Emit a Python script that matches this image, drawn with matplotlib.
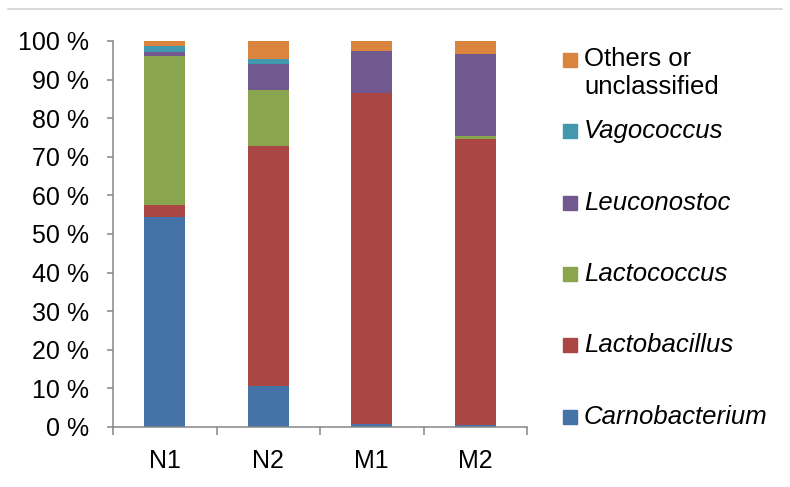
import matplotlib

matplotlib.use("Agg")

import matplotlib.pyplot as plt
import numpy as np
from matplotlib.lines import Line2D
from matplotlib.patches import Rectangle

plt.rcParams["font.family"] = ["Liberation Sans", "DejaVu Sans"]

samples = ["N1", "N2", "M1", "M2"]
carnobacterium = [54.5, 10.6, 0.9, 0.4]
lactobacillus = [3.0, 62.2, 85.5, 74.1]
lactococcus = [38.7, 14.4, 0.0, 0.9]
leuconostoc = [0.9, 6.8, 11.0, 21.2]
vagococcus = [1.7, 1.3, 0.0, 0.0]
others = [1.2, 4.7, 2.6, 3.4]

series_names = ["Carnobacterium", "Lactobacillus", "Lactococcus",
                "Leuconostoc", "Vagococcus", "Others or\nunclassified"]
series_values = [carnobacterium, lactobacillus, lactococcus,
                 leuconostoc, vagococcus, others]
colors = ["#4572A7", "#AA4643", "#89A54E", "#71588F", "#4198AF", "#DB843D"]
y_ticks = [0, 10, 20, 30, 40, 50, 60, 70, 80, 90, 100]

W, H = 790, 487
fig = plt.figure(figsize=(W / 100, H / 100), dpi=100)
ax = fig.add_axes([113 / W, 1 - 427 / H, (527 - 113) / W, (427 - 41) / H])

x = np.arange(len(samples))
bottom = np.zeros(len(samples))
for vals, color in zip(series_values, colors):
    vals = np.asarray(vals)
    ax.bar(x, vals, width=0.4, bottom=bottom, color=color, linewidth=0)
    bottom += vals

axis_grey = "#868686"
ax.set_xlim(-0.5, len(samples) - 0.5)
ax.set_ylim(0, 100)
ax.set_yticks(y_ticks)
ax.set_yticklabels([f"{t} %" for t in y_ticks])
ax.set_xticks(np.arange(len(samples) + 1) - 0.5)
ax.set_xticklabels([])
ax.set_xticks(x, minor=True)
ax.set_xticklabels(samples, minor=True)
ax.tick_params(axis="x", which="minor", length=0, pad=16, labelsize=18)
ax.tick_params(axis="x", which="major", length=5.5, width=1.1, color=axis_grey)
ax.tick_params(axis="y", length=4.5, width=1.1, color=axis_grey, pad=13, labelsize=18)
for side in ("top", "right"):
    ax.spines[side].set_visible(False)
for side in ("left", "bottom"):
    ax.spines[side].set_color(axis_grey)
    ax.spines[side].set_linewidth(1.1)

# legend drawn by hand, entries evenly spaced like the original
leg_y0, leg_step = 60, 71.3
for i, (name, color) in enumerate(zip(series_names[::-1], colors[::-1])):
    yc = leg_y0 + i * leg_step
    fig.patches.append(Rectangle((563 / W, 1 - (yc + 7) / H), 14 / W, 14 / H,
                                 transform=fig.transFigure, color=color))
    if "\n" in name:
        fig.text(584 / W, 1 - (yc - 13) / H, name, fontsize=18.5, va="top",
                 ha="left", linespacing=1.2)
    else:
        fig.text(584 / W, 1 - yc / H, name, fontsize=18.5, va="center",
                 ha="left", style="italic")

# thin separator line at the top of the figure
fig.lines.append(Line2D([8 / W, 782 / W], [1 - 9 / H, 1 - 9 / H],
                        transform=fig.transFigure, color="#d3d3d3", linewidth=1.2))

fig.savefig("out.png", dpi=100)
